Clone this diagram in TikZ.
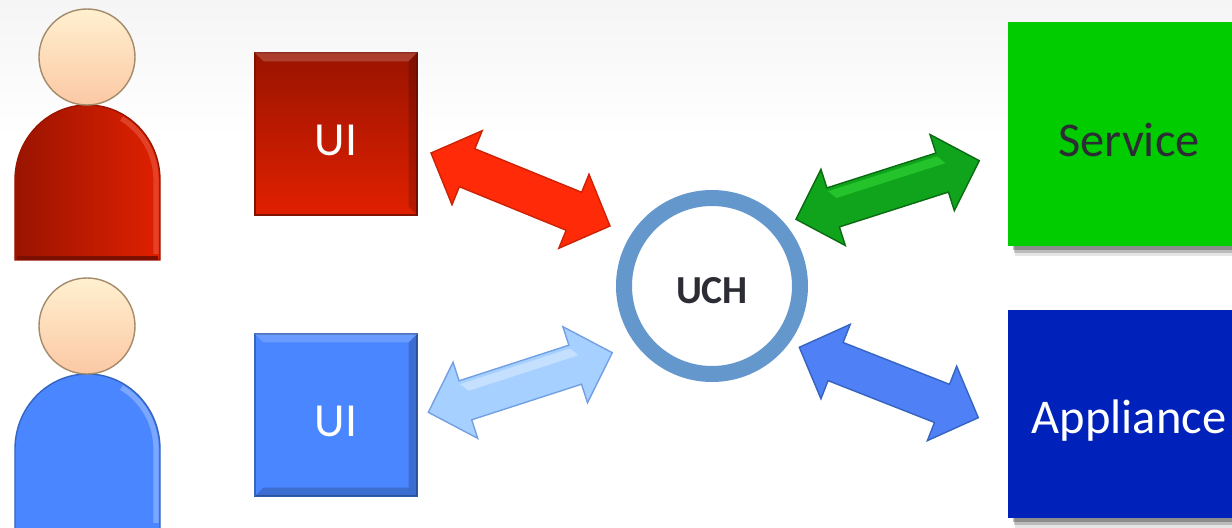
\documentclass[tikz,border=0pt]{standalone}
\usepackage{fontspec}
\setmainfont{Carlito}
\usetikzlibrary{calc}
\usetikzlibrary{shadows}

\definecolor{bgtop}{HTML}{F5F5F5}
\definecolor{uchring}{HTML}{6498CC}
\definecolor{redlight}{HTML}{E02000}
\definecolor{reddark}{HTML}{9A1400}
\definecolor{redarrow}{HTML}{FF2A08}
\definecolor{bluelight}{HTML}{4A86FF}
\definecolor{bluedark}{HTML}{3565C0}
\definecolor{bluearrow}{HTML}{4F80F5}
\definecolor{bluepale}{HTML}{A6D0FF}
\definecolor{greenarrow}{HTML}{10A41C}
\definecolor{greenbox}{HTML}{00CC00}
\definecolor{navybox}{HTML}{0022BB}
\definecolor{labeltext}{HTML}{2C2C34}
\definecolor{headtop}{HTML}{FFF0D0}
\definecolor{headmid}{HTML}{FDD6A4}
\definecolor{headbot}{HTML}{FCC8A4}

\tikzset{
    uibox/.style={minimum size=1.62cm, inner sep=0pt, text=white, font=\fontsize{13.5}{16}\selectfont,
        text height=0.52cm, text depth=0.08cm},
    sidebox/.style={minimum width=2.42cm, inner sep=0pt, font=\fontsize{13.8}{17}\selectfont,
        general shadow={shadow xshift=0.07cm, shadow yshift=-0.10cm, fill=black, opacity=0.10},
        general shadow={shadow xshift=0.06cm, shadow yshift=-0.07cm, fill=black, opacity=0.18},
        general shadow={shadow xshift=0.05cm, shadow yshift=-0.04cm, fill=black, opacity=0.25}},
    head/.style={draw=black!35!headmid, thin, top color=headtop, middle color=headmid, bottom color=headbot},
    arrowbody/.style={line width=0.4pt, line join=miter},
    bevel/.style={opacity=0.18}
}

% tips are (#1) and (#2), #3 fill, #4 edge, #5 shine along the upper side
\newcommand{\blockarrow}[5]{
    \draw[arrowbody, fill=#3, draw=#4] (#1)
        -- ($(#1)!0.39cm!(#2)!0.40cm!90:(#2)$)
        -- ($(#1)!0.39cm!(#2)!0.205cm!90:(#2)$)
        -- ($(#2)!0.39cm!(#1)!0.205cm!-90:(#1)$)
        -- ($(#2)!0.39cm!(#1)!0.40cm!-90:(#1)$)
        -- (#2)
        -- ($(#2)!0.39cm!(#1)!0.40cm!90:(#1)$)
        -- ($(#2)!0.39cm!(#1)!0.205cm!90:(#1)$)
        -- ($(#1)!0.39cm!(#2)!0.205cm!-90:(#2)$)
        -- ($(#1)!0.39cm!(#2)!0.40cm!-90:(#2)$)
        -- cycle;
    \fill[#5, opacity=0.35]
        ($(#1)!0.39cm!(#2)!0.17cm!90:(#2)$)
        -- ($(#2)!0.39cm!(#1)!0.17cm!-90:(#1)$)
        -- ($(#2)!0.33cm!(#1)!0.08cm!-90:(#1)$)
        -- ($(#1)!0.45cm!(#2)!0.08cm!90:(#2)$)
        -- cycle;
}

\begin{document}
\begin{tikzpicture}[scale=1]
    \useasboundingbox (0,0) rectangle (12.32,5.28);
    \fill[white] (0,0) rectangle (12.32,5.28);
    \fill[top color=bgtop, bottom color=white] (0,3.9) rectangle (12.32,5.28);

    \coordinate (personred) at (0.15, 2.68);
    \coordinate (personblue) at (0.15, -0.01);

    \coordinate (redleft) at (4.31, 3.75);
    \coordinate (redright) at (6.10, 3.02);
    \coordinate (greenleft) at (7.96, 3.087);
    \coordinate (greenright) at (9.793, 3.673);
    \coordinate (paleleft) at (4.283, 1.157);
    \coordinate (paleright) at (6.123, 1.753);
    \coordinate (blueleft) at (7.993, 1.807);
    \coordinate (blueright) at (9.783, 1.103);

    % red person
    \begin{scope} [shift={(personred)}]
        \path[draw=reddark, thin, left color=reddark, middle color=reddark!60!redlight, right color=redlight]
            (0,0) -- (0,0.8) arc (180:0:0.725 and 0.75) -- (1.45,0) -- cycle;
        \draw[redlight!75!white, opacity=0.6, line width=1.5pt] (1.41,0.06) -- (1.41,0.8) arc (0:60:0.69 and 0.71);
        \draw[reddark!80!black, line width=1pt] (0.02,0.02) -- (1.43,0.02);
        \path[head] (0.72,2.03) circle (0.48);
    \end{scope}

    % blue person
    \begin{scope} [shift={(personblue)}]
        \path[draw=bluedark, thin, fill=bluelight]
            (0,0) -- (0,0.8) arc (180:0:0.725 and 0.75) -- (1.45,0) -- cycle;
        \draw[bluelight!60!white, opacity=0.7, line width=1.5pt] (1.41,0.06) -- (1.41,0.8) arc (0:60:0.69 and 0.71);
        \path[head] (0.72,2.03) circle (0.48);
    \end{scope}

    \node[uibox, top color=reddark, bottom color=redlight, draw=reddark!85!black, thin] (uired) at (3.36, 3.94) {UI};
    \node[uibox, fill=bluelight, draw=bluedark, thin] (uiblue) at (3.36, 1.13) {UI};

    % bevels of the two ui boxes
    \fill[white, bevel] (uired.north west) -- (uired.north east) -- ++(-0.09,-0.09) -- ($(uired.north west)+(0.09,-0.09)$) -- cycle;
    \fill[black, bevel] (uired.north east) -- (uired.south east) -- ++(-0.09,0.09) -- ($(uired.north east)+(-0.09,-0.09)$) -- cycle;
    \fill[white, bevel] (uiblue.north west) -- (uiblue.north east) -- ++(-0.09,-0.09) -- ($(uiblue.north west)+(0.09,-0.09)$) -- cycle;
    \fill[black, bevel] (uiblue.north east) -- (uiblue.south east) -- ++(-0.09,0.09) -- ($(uiblue.north east)+(-0.09,-0.09)$) -- cycle;
    \fill[black, bevel] (uiblue.south west) -- (uiblue.south east) -- ++(-0.09,0.09) -- ($(uiblue.south west)+(0.09,0.09)$) -- cycle;

    \node[circle, draw=uchring, line width=0.16cm, fill=white, minimum size=1.76cm, inner sep=0pt,
        text=labeltext, font=\bfseries\fontsize{11.3}{13}\selectfont, text height=0.36cm, text depth=0cm] (uch) at (7.12, 2.42) {UCH};

    \node[sidebox, fill=greenbox, minimum height=2.24cm, text=labeltext, text height=0.53cm, text depth=0.08cm]
        (service) at (11.29, 3.94) {Service};
    \node[sidebox, fill=navybox, minimum height=2.08cm, text=white, text height=0.5cm, text depth=0.1cm]
        (appliance) at (11.29, 1.14) {Appliance};

    \blockarrow{redleft}{redright}{redarrow}{redarrow!80!black}{redarrow}
    \blockarrow{greenleft}{greenright}{greenarrow}{greenarrow!65!black}{green!70!white}
    \blockarrow{paleleft}{paleright}{bluepale}{bluedark!45!bluepale}{white}
    \blockarrow{blueleft}{blueright}{bluearrow}{bluedark}{bluearrow}
\end{tikzpicture}
\end{document}
